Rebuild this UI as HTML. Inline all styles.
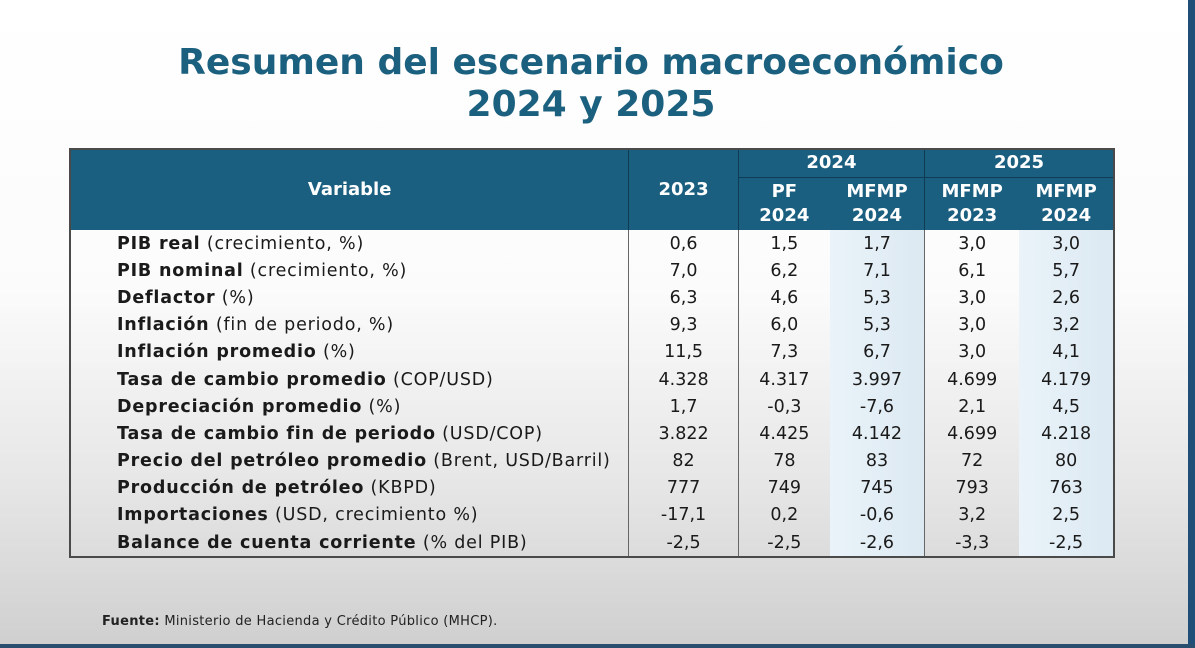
<!DOCTYPE html>
<html><head><meta charset="utf-8"><style>
body{margin:0;width:1195px;height:648px;overflow:hidden;position:relative;font-family:"DejaVu Sans","Liberation Sans",sans-serif;
background:linear-gradient(180deg,#ffffff 0%,#fbfbfb 45%,#e6e6e6 75%,#cfcfcf 100%);}
.title{position:absolute;left:0;width:1182px;text-align:center;color:#1b607e;font-weight:bold;font-size:36px;line-height:42px;}
.rs{position:absolute;right:0;top:0;width:7px;height:648px;background:#1f4e78;}
.bs{position:absolute;left:0;bottom:0;width:1195px;height:4px;background:#2a4f6e;}
table{position:absolute;left:69px;top:148px;border-collapse:collapse;width:1046px;border:2px solid #4a4a4a;}
th{background:#1b5f80;color:#fff;font-weight:bold;font-size:18px;padding:0;line-height:24px;}
td{padding:0;height:27.2px;font-size:17.5px;color:#1a1a1a;text-align:center;border-left:1px solid #666;}
td.v{text-align:left;padding-left:46px;border-left:none;font-size:17.5px;letter-spacing:0.8px;white-space:nowrap}
td.v b{font-weight:bold}
td.s{background:linear-gradient(90deg,#eaf3f9,#dce9f2);border-left:none}
th.g{border-left:1px solid #0e3c55}
.foot{position:absolute;left:102px;top:614px;font-size:13px;letter-spacing:0.3px;color:#222}
</style></head><body>
<div class="title" style="top:42px">Resumen del escenario macroeconómico</div>
<div class="title" style="top:84px">2024 y 2025</div>
<table>
<colgroup><col style="width:559px"><col style="width:110px"><col style="width:92px"><col style="width:95px"><col style="width:95px"><col style="width:95px"></colgroup>
<tr style="height:28px"><th rowspan="2">Variable</th><th rowspan="2" class="g">2023</th><th colspan="2" class="g" style="border-bottom:1px solid #0e3c55">2024</th><th colspan="2" class="g" style="border-bottom:1px solid #0e3c55">2025</th></tr>
<tr style="height:53px"><th class="g">PF<br>2024</th><th>MFMP<br>2024</th><th class="g">MFMP<br>2023</th><th>MFMP<br>2024</th></tr>
<tr><td class="v"><b>PIB real</b> (crecimiento, %)</td><td>0,6</td><td>1,5</td><td class="s">1,7</td><td>3,0</td><td class="s">3,0</td></tr>
<tr><td class="v"><b>PIB nominal</b> (crecimiento, %)</td><td>7,0</td><td>6,2</td><td class="s">7,1</td><td>6,1</td><td class="s">5,7</td></tr>
<tr><td class="v"><b>Deflactor</b> (%)</td><td>6,3</td><td>4,6</td><td class="s">5,3</td><td>3,0</td><td class="s">2,6</td></tr>
<tr><td class="v"><b>Inflación</b> (fin de periodo, %)</td><td>9,3</td><td>6,0</td><td class="s">5,3</td><td>3,0</td><td class="s">3,2</td></tr>
<tr><td class="v"><b>Inflación promedio</b> (%)</td><td>11,5</td><td>7,3</td><td class="s">6,7</td><td>3,0</td><td class="s">4,1</td></tr>
<tr><td class="v"><b>Tasa de cambio promedio</b> (COP/USD)</td><td>4.328</td><td>4.317</td><td class="s">3.997</td><td>4.699</td><td class="s">4.179</td></tr>
<tr><td class="v"><b>Depreciación promedio</b> (%)</td><td>1,7</td><td>-0,3</td><td class="s">-7,6</td><td>2,1</td><td class="s">4,5</td></tr>
<tr><td class="v"><b>Tasa de cambio fin de periodo</b> (USD/COP)</td><td>3.822</td><td>4.425</td><td class="s">4.142</td><td>4.699</td><td class="s">4.218</td></tr>
<tr><td class="v"><b>Precio del petróleo promedio</b> (Brent, USD/Barril)</td><td>82</td><td>78</td><td class="s">83</td><td>72</td><td class="s">80</td></tr>
<tr><td class="v"><b>Producción de petróleo</b> (KBPD)</td><td>777</td><td>749</td><td class="s">745</td><td>793</td><td class="s">763</td></tr>
<tr><td class="v"><b>Importaciones</b> (USD, crecimiento %)</td><td>-17,1</td><td>0,2</td><td class="s">-0,6</td><td>3,2</td><td class="s">2,5</td></tr>
<tr><td class="v"><b>Balance de cuenta corriente</b> (% del PIB)</td><td>-2,5</td><td>-2,5</td><td class="s">-2,6</td><td>-3,3</td><td class="s">-2,5</td></tr>
</table>
<div class="foot"><b>Fuente:</b> Ministerio de Hacienda y Crédito Público (MHCP).</div>
<div class="rs"></div>
<div class="bs"></div>
</body></html>
